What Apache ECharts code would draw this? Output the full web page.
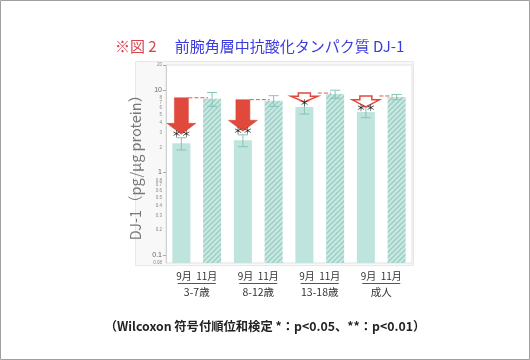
<!DOCTYPE html>
<html><head><meta charset="utf-8">
<script src="https://cdn.jsdelivr.net/npm/echarts@6/dist/echarts.min.js"></script>
<style>html,body{margin:0;padding:0;background:#fff}#c{width:530px;height:360px}</style>
</head><body><div id="c"></div>
<script>
const groups = ['3-7歳', '8-12歳', '13-18歳', '成人'];
const months = ['9月', '11月'];
const sepValues = [2.25, 2.45, 6.2, 5.4];
const novValues = [7.8, 7.4, 8.9, 8.2];
const sepErrors = [0.38, 0.4, 1.1, 0.8];
const novErrors = [1.5, 1.1, 1.0, 0.6];
const significance = ['＊＊', '＊＊', '＊', '＊＊'];
const filledArrow = [true, true, false, false];
const yTickLabels = [0.08, 0.1, 0.2, 0.3, 0.4, 0.5, 0.6, 0.7, 0.8, 1, 2, 3, 4, 5, 6, 7, 8, 10, 20];
const yMajorTicks = [0.1, 1, 10, 20];
const yMajorLabels = [0.1, 1, 10];
const yMin = 0.08, yMax = 20;

const FONT = '"Noto Sans CJK JP", "Noto Sans", sans-serif';
const cats = [];
groups.forEach(g => months.forEach(m => cats.push(g + ' ' + m)));
const barData = [];
const errData = [];
groups.forEach((g, i) => {
  barData.push([2 * i, sepValues[i], 0]);
  barData.push([2 * i + 1, novValues[i], 1]);
  errData.push([2 * i, sepValues[i] - sepErrors[i], sepValues[i] + sepErrors[i]]);
  errData.push([2 * i + 1, novValues[i] - novErrors[i], novValues[i] + novErrors[i]]);
});
const arrowData = groups.map((g, i) => [2 * i, novValues[i], sepValues[i], 2 * i + 1, filledArrow[i] ? 1 : 0, i]);

// hatch pattern for the November bars
const pat = document.createElement('canvas');
pat.width = 5; pat.height = 5;
(function () {
  const c = pat.getContext('2d');
  c.fillStyle = '#cdeae4'; c.fillRect(0, 0, 5, 5);
  c.strokeStyle = '#9fd1c8'; c.lineWidth = 1.6;
  c.beginPath();
  c.moveTo(-1, 6); c.lineTo(6, -1);
  c.moveTo(-1, 1); c.lineTo(1, -1);
  c.moveTo(4, 6); c.lineTo(6, 4);
  c.stroke();
})();

const chart = echarts.init(document.getElementById('c'));
chart.setOption({
  animation: false,
  title: [{
    text: '{r|※図 2}　{b|前腕角層中抗酸化タンパク質 DJ-1}',
    left: 110, top: 32,
    textStyle: { fontWeight: 'normal', rich: {
      r: { color: '#d8424a', fontSize: 15, fontWeight: 'normal', fontFamily: FONT },
      b: { color: '#3b3be0', fontSize: 15, fontWeight: 'normal', fontFamily: FONT }
    } }
  }, {
    text: '（Wilcoxon 符号付順位和検定 *：p<0.05、**：p<0.01）',
    left: 'center', top: 315,
    textStyle: { color: '#222', fontSize: 12.3, fontWeight: 'bold', fontFamily: FONT }
  }],
  graphic: [
    { type: 'rect', z: -10, shape: { x: 0.5, y: 0.5, width: 529, height: 359 }, style: { fill: 'none', stroke: '#a0a0a0' } },
    { type: 'rect', z: -9, shape: { x: 135.5, y: 61.5, width: 278, height: 204 }, style: { fill: '#f8f8f8', stroke: '#e8e8e8' } }
  ],
  grid: { left: 166, right: 118, top: 65, bottom: 97, show: true, backgroundColor: '#fff', borderColor: '#e2e2e2', borderWidth: 1 },
  xAxis: [{
    type: 'category', data: cats, gridIndex: 0,
    axisLine: { show: false }, axisTick: { show: false }, axisLabel: { show: false }
  }, {
    type: 'category', data: groups, gridIndex: 0, position: 'bottom',
    axisLine: { show: false }, axisTick: { show: false },
    axisLabel: {
      margin: 7, interval: 0,
      formatter: v => '{m|' + months.join('  ') + '}\n{u|}\n{g|' + v + '}',
      rich: {
        m: { fontSize: 10, lineHeight: 12, color: '#333', fontFamily: FONT },
        u: { width: 38, height: 1, lineHeight: 3, backgroundColor: '#555' },
        g: { fontSize: 10.5, lineHeight: 15, color: '#333', fontFamily: FONT }
      }
    }
  }],
  yAxis: {
    type: 'log', logBase: 10, min: yMin, max: yMax,
    name: 'DJ-1（pg/μg protein）', nameLocation: 'middle', nameGap: 23,
    nameTextStyle: { fontSize: 14.5, color: '#777', fontFamily: FONT },
    axisLine: { show: true, lineStyle: { color: '#d0d0d0' } },
    axisTick: { show: true, length: 3, customValues: yMajorTicks, lineStyle: { color: '#aaa' } },
    splitLine: { show: false },
    axisLabel: {
      customValues: yTickLabels, margin: 4, showMinLabel: true, showMaxLabel: true,
      formatter: v => {
        const n = Number(Number(v).toPrecision(3));
        return (yMajorLabels.indexOf(n) >= 0 ? '{a|' : '{b|') + n + '}';
      },
      rich: {
        a: { fontSize: 7, color: '#666' },
        b: { fontSize: 4.5, color: '#888' }
      }
    }
  },
  series: [{
    type: 'custom', xAxisIndex: 0, data: barData, z: 2,
    renderItem: (params, api) => {
      const top = api.coord([api.value(0), api.value(1)]);
      const base = api.coord([api.value(0), yMin]);
      const w = 18;
      const nov = api.value(2) === 1;
      return {
        type: 'rect',
        shape: { x: top[0] - w / 2, y: top[1], width: w, height: base[1] - top[1] },
        style: { fill: nov ? { image: pat, repeat: 'repeat' } : '#bfe4dd' }
      };
    }
  }, {
    type: 'custom', xAxisIndex: 0, data: errData, z: 5,
    renderItem: (params, api) => {
      const lo = api.coord([api.value(0), api.value(1)]);
      const hi = api.coord([api.value(0), api.value(2)]);
      const x = lo[0], c = 5;
      const st = { stroke: '#86c4b9', lineWidth: 1 };
      return { type: 'group', children: [
        { type: 'line', shape: { x1: x, y1: lo[1], x2: x, y2: hi[1] }, style: st },
        { type: 'line', shape: { x1: x - c, y1: lo[1], x2: x + c, y2: lo[1] }, style: st },
        { type: 'line', shape: { x1: x - c, y1: hi[1], x2: x + c, y2: hi[1] }, style: st }
      ] };
    }
  }, {
    type: 'custom', xAxisIndex: 0, data: arrowData, z: 10,
    renderItem: (params, api) => {
      const top = api.coord([api.value(0), api.value(1)]);
      const sep = api.coord([api.value(0), api.value(2)]);
      const nov = api.coord([api.value(3), api.value(1)]);
      const filled = api.value(4) === 1;
      const gi = api.value(5);
      const x = top[0], y0 = top[1] - 1;
      const children = [];
      let pts, edge, starY;
      if (filled) {
        const tip = sep[1] - 9, sh = 7, hh = 14.5, hl = 11;
        pts = [[x - sh, y0], [x + sh, y0], [x + sh, tip - hl], [x + hh, tip - hl], [x, tip], [x - hh, tip - hl], [x - sh, tip - hl]];
        edge = x + sh; starY = sep[1] - 10;
        children.push({ type: 'polygon', shape: { points: pts }, style: { fill: '#e2493d', stroke: '#d84035', lineWidth: 0.5 } });
      } else {
        const tip = sep[1] - 5, sh = 6, hh = 13.5, hl = Math.max(5, (tip - y0) * 0.65);
        pts = [[x - sh, y0], [x + sh, y0], [x + sh, tip - hl], [x + hh, tip - hl], [x, tip], [x - hh, tip - hl], [x - sh, tip - hl]];
        edge = x + hh; starY = sep[1] - 5;
        children.push({ type: 'polygon', shape: { points: pts }, style: { fill: '#fff', stroke: '#e2493d', lineWidth: 1.5 } });
      }
      children.push({ type: 'line', shape: { x1: edge, y1: y0, x2: nov[0] - 4, y2: y0 }, style: { stroke: '#e05a50', lineWidth: 1, lineDash: [4, 2] } });
      children.push({ type: 'text', style: { text: significance[gi], x: x, y: starY, align: 'center', verticalAlign: 'middle', fontSize: 9.5, fill: '#222', fontFamily: FONT } });
      return { type: 'group', children };
    }
  }]
});
</script></body></html>
